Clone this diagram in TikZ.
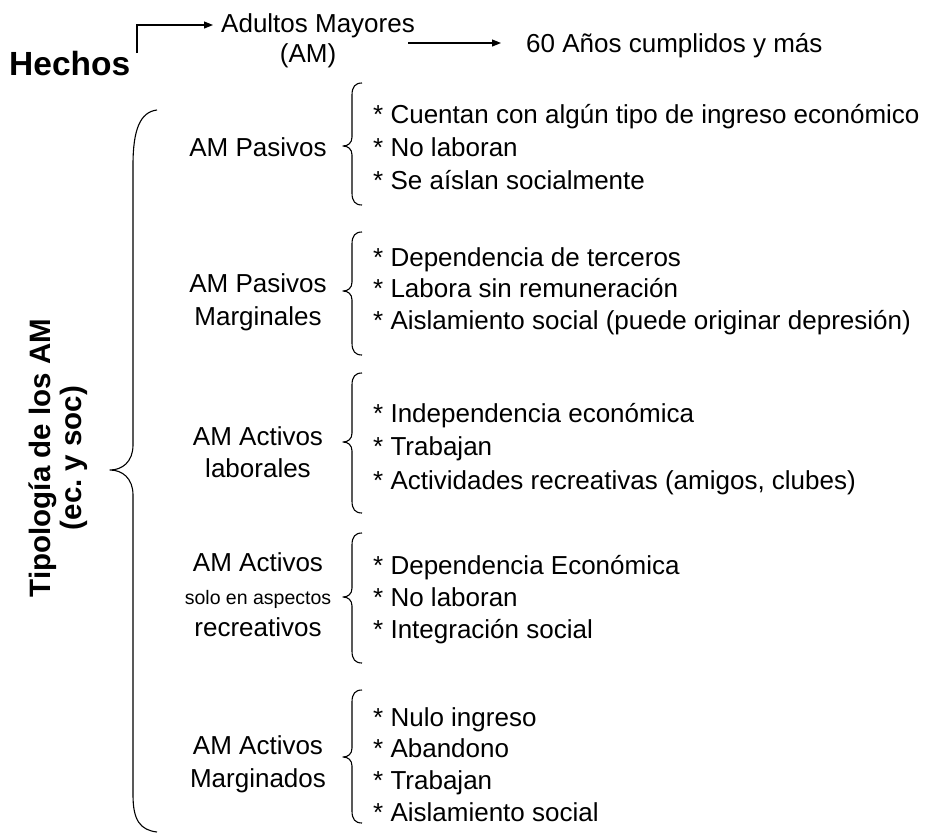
\documentclass[tikz,border=0pt]{standalone}
\usepackage{fontspec}
\setmainfont{Liberation Sans}
\usetikzlibrary{arrows.meta}
\frenchspacing
\tikzset{
  txt/.style={inner sep=0pt, font=\fontsize{26}{30}\selectfont},
  itm/.style={txt, anchor=base west},
  lbl/.style={txt, anchor=base},
  brc/.style={line width=1.1pt, line join=round},
  arr/.style={line width=1.1pt, -{Triangle[length=9pt,width=7pt]}},
}
\newcommand{\smallbrace}[4]{%
  \draw[brc] (362,#1) .. controls (355,#1) and (352,#1+4) .. (352,#1+12)
    -- (352,#2-9) .. controls (352,#2-3) and (348,#2) .. (343,#2)
    .. controls (348,#2) and (352,#2+3) .. (352,#2+9)
    -- (352,#3-12) .. controls (352,#3-4) and (355,#3) .. (362,#3);
  \coordinate (#4) at (343,#2);
}
\begin{document}
\begin{tikzpicture}[x=1pt,y=-1pt]
\useasboundingbox (0,0) rectangle (933,833);
% top row
\node[txt, anchor=base west, font=\bfseries\fontsize{33.5}{38}\selectfont] (hechos) at (9,75) {Hechos};
\node[txt, anchor=base west] (am) at (221,32) {Adultos Mayores};
\node[txt, anchor=base] (amab) at (308,62) {(AM)};
\node[txt, anchor=base west] (sesenta) at (526,52) {60 Años cumplidos y más};
\coordinate (hc) at (137,53);
\coordinate (amin) at (221,25);
\draw[arr, shorten >=8pt] (hc) |- (amin);
\coordinate (a1) at (408,43);
\coordinate (a2) at (526,43);
\draw[arr, shorten >=25pt] (a1) -- (a2);
% rotated title
\node[txt, rotate=90, align=center, font=\bfseries\fontsize{29.5}{31}\selectfont] (tit) at (58,458) {Tipología de los AM\\(ec.\ y soc)};
% big brace
\draw[brc] (157,110) .. controls (140,112) and (133,130) .. (133,165)
  -- (133,445) .. controls (133,462) and (122,470) .. (110,470)
  .. controls (122,470) and (133,478) .. (133,495)
  -- (133,795) .. controls (133,820) and (140,830) .. (157,832);
% group 1
\node[lbl] (l1) at (258,156) {AM Pasivos};
\smallbrace{83}{146}{205}{b1}
\node[itm] (i11) at (373,123) {* Cuentan con algún tipo de ingreso económico};
\node[itm] (i12) at (373,156) {* No laboran};
\node[itm] (i13) at (373,189) {* Se aíslan socialmente};
% group 2
\node[lbl] (l2a) at (258,292) {AM Pasivos};
\node[lbl] (l2b) at (258,325) {Marginales};
\smallbrace{232}{291}{355}{b2}
\node[itm] (i21) at (373,266) {* Dependencia de terceros};
\node[itm] (i22) at (373,297) {* Labora sin remuneración};
\node[itm] (i23) at (373,329) {* Aislamiento social (puede originar depresión)};
% group 3
\node[lbl] (l3a) at (258,445) {AM Activos};
\node[lbl] (l3b) at (258,477) {laborales};
\smallbrace{373}{442}{513}{b3}
\node[itm] (i31) at (373,422) {* Independencia económica};
\node[itm] (i32) at (373,455) {* Trabajan};
\node[itm] (i33) at (373,489) {* Actividades recreativas (amigos, clubes)};
% group 4
\node[lbl] (l4a) at (258,571) {AM Activos};
\node[lbl, font=\fontsize{19.5}{22}\selectfont] (l4b) at (258,604) {solo en aspectos};
\node[lbl] (l4c) at (258,636) {recreativos};
\smallbrace{533}{597}{663}{b4}
\node[itm] (i41) at (373,574) {* Dependencia Económica};
\node[itm] (i42) at (373,606) {* No laboran};
\node[itm] (i43) at (373,638) {* Integración social};
% group 5
\node[lbl] (l5a) at (258,754) {AM Activos};
\node[lbl] (l5b) at (258,787) {Marginados};
\smallbrace{690}{757}{823}{b5}
\node[itm] (i51) at (373,726) {* Nulo ingreso};
\node[itm] (i52) at (373,757) {* Abandono};
\node[itm] (i53) at (373,789) {* Trabajan};
\node[itm] (i54) at (373,821) {* Aislamiento social};
\end{tikzpicture}
\end{document}
